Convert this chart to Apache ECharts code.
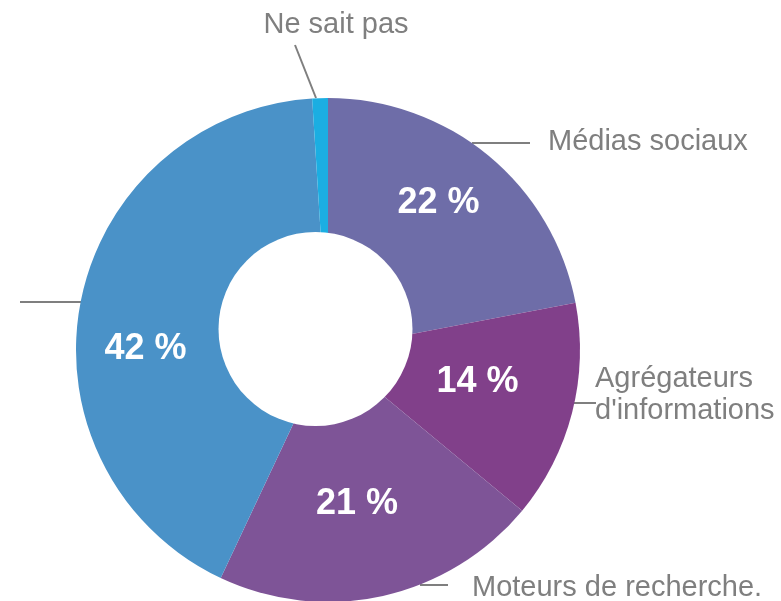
<!DOCTYPE html>
<html><head><meta charset="utf-8">
<script src="https://cdn.jsdelivr.net/npm/echarts@6/dist/echarts.min.js"></script>
<style>html,body{margin:0;padding:0;background:#fff}#c{width:781px;height:601px}</style>
</head><body><div id="c"></div>
<script>
const categories = ['Médias sociaux', "Agrégateurs\nd'informations", 'Moteurs de recherche.', 'Accès direct', 'Ne sait pas'];
const values = [22, 14, 21, 42, 1];
const colors = ['#6e6da8', '#81408a', '#7e5497', '#4a92c8', '#1baee2'];

// label placement (not data)
const outerLayout = [
  {x: 548, y: 142, align: 'left', line: [[472, 143], [530, 143]]},
  {x: 595, y: 395, align: 'left', line: [[574, 403], [596, 403]]},
  {x: 472, y: 588, align: 'left', line: [[420, 585], [448, 585]]},
  {x: -4, y: 302, align: 'right', line: [[81, 302], [20, 302]]},
  {x: 336, y: 25, align: 'center', line: [[316, 98], [295, 45]]}
];
const innerLayout = [[438.5, 203], [477.5, 382], [357, 504], [145.5, 349], null];

const FONT = "'Liberation Sans', Arial, sans-serif";
const data = categories.map((c, i) => ({name: c, value: values[i], itemStyle: {color: colors[i]}}));

const chart = echarts.init(document.getElementById('c'), null, {renderer: 'canvas'});
chart.setOption({
  animation: false,
  backgroundColor: '#fff',
  series: [
    {
      type: 'pie', center: [328, 350], radius: [0, 252], startAngle: 90, clockwise: true,
      avoidLabelOverlap: false, silent: true,
      data: data,
      label: {show: true, position: 'outside', color: '#7f7f7f', fontSize: 29, fontFamily: FONT, lineHeight: 32,
        formatter: p => p.name},
      labelLine: {show: true, lineStyle: {color: '#7f7f7f', width: 2}},
      labelLayout: p => {
        const L = outerLayout[p.dataIndex];
        return {x: L.x, y: L.y, align: L.align, verticalAlign: 'middle', labelLinePoints: L.line};
      }
    },
    {
      type: 'pie', center: [328, 350], radius: [0, 252], startAngle: 90, clockwise: true,
      avoidLabelOverlap: false, silent: true,
      data: categories.map((c, i) => ({name: c, value: values[i]})),
      itemStyle: {color: 'rgba(0,0,0,0)'},
      label: {show: true, position: 'inside', color: '#fff', fontSize: 36, fontWeight: 'bold', fontFamily: FONT,
        formatter: p => p.value >= 5 ? p.value + ' %' : ''},
      labelLine: {show: false},
      labelLayout: p => {
        const L = innerLayout[p.dataIndex];
        return L ? {x: L[0], y: L[1], align: 'center', verticalAlign: 'middle'} : {};
      }
    },
    {
      type: 'pie', center: [315.5, 329], radius: [0, 97], silent: true,
      data: [{name: 'hole', value: 1, itemStyle: {color: '#fff'}}],
      label: {show: false}, labelLine: {show: false}
    }
  ]
});
</script></body></html>
